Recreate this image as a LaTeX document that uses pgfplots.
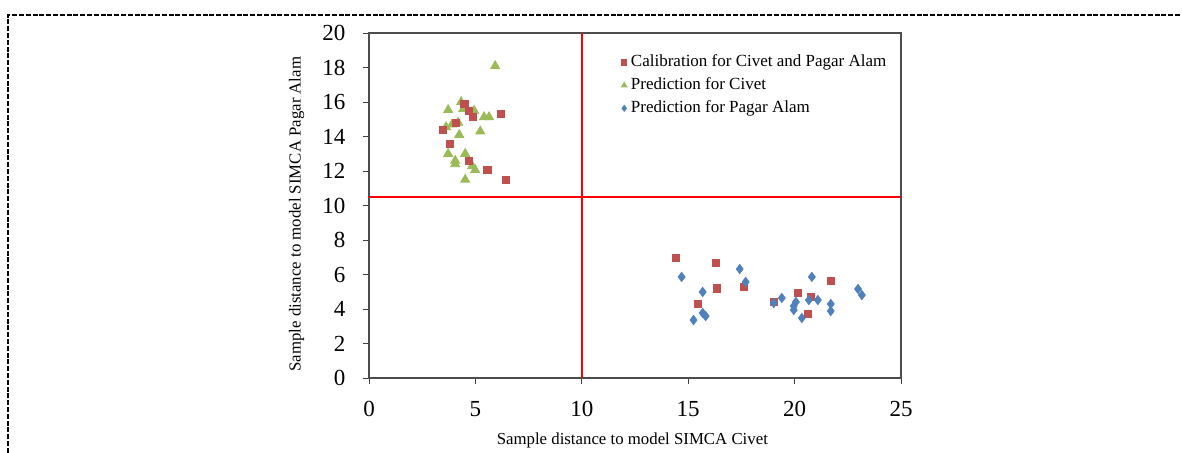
\documentclass[border=0pt]{standalone}
\usepackage{fontspec}
\setmainfont{Liberation Serif}
\usepackage{pgfplots}
\pgfplotsset{compat=1.18}

\definecolor{calred}{HTML}{C0504D}
\definecolor{civgreen}{HTML}{9BBB59}
\definecolor{pagblue}{HTML}{4F81BD}

\begin{document}
\begin{tikzpicture}
\useasboundingbox (0,0) rectangle (591pt,-226pt);
% dashed frame of the figure box
\draw[line width=1pt, dash pattern=on 2.5pt off 0.9pt] (4pt,-240pt) -- (4pt,-7.5pt) -- (600pt,-7.5pt);
\begin{axis}[
    at={(184.5pt,-189pt)}, anchor=south west,
    scale only axis,
    width=266pt, height=172.5pt,
    xmin=0, xmax=25, ymin=0, ymax=20,
    xtick={0,5,...,25},
    ytick={0,2,...,20},
    tick align=outside,
    xtick pos=bottom, ytick pos=left,
    major tick length=3pt,
    tick style={black!75, line width=0.5pt},
    axis line style={black!70, line width=0.6pt},
    /pgf/number format/assume math mode=true,
    ticklabel style={font=\fontsize{11.5}{13}\selectfont},
    xticklabel style={yshift=-5pt},
    yticklabel style={xshift=-5.3pt},
    xlabel={Sample distance to model SIMCA Civet},
    ylabel={Sample distance to model SIMCA Pagar Alam},
    label style={font=\fontsize{8.4}{10}\selectfont},
    xlabel style={at={(axis description cs:0.495,0)}, anchor=center, yshift=-31pt},
    ylabel style={at={(axis description cs:-0.136,0.475)}, anchor=center},
    legend style={at={(0.47,0.955)}, anchor=north west, draw=none, fill=none,
        font=\fontsize{8.5}{10}\selectfont, row sep=0pt,
        inner sep=1pt},
    legend cell align=left,
    legend image code/.code={\draw[mark repeat=2,mark phase=2,#1] plot coordinates {(0cm,0cm)(0.12cm,0cm)(0.24cm,0cm)};},
    clip=false,
]
% quadrant limits
\addplot[red, line width=1pt, forget plot] coordinates {(10,0) (10,20)};
\addplot[red, line width=1pt, forget plot] coordinates {(0,10.5) (25,10.5)};

% Prediction for Civet
\addplot[only marks, mark=triangle*, mark size=2.6pt, color=civgreen, forget plot] coordinates {
 (4.33,16.0) (3.72,15.54) (4.43,15.6) (4.94,15.5) (5.41,15.13) (5.64,15.13)
 (3.62,14.55) (3.90,14.7) (4.19,14.8) (5.23,14.3) (4.24,14.1)
 (3.72,13.0) (4.52,13.0) (4.05,12.6) (4.05,12.4) (4.85,12.3) (4.99,12.06)
 (4.52,11.5) (5.93,18.09)
};
% Calibration for Civet and Pagar Alam
\addplot[only marks, mark=square*, mark size=1.8pt, color=calred, forget plot] coordinates {
 (4.48,15.9) (4.71,15.5) (4.90,15.13) (6.21,15.3) (3.48,14.4) (4.10,14.8)
 (3.81,13.55) (4.71,12.6) (5.56,12.06) (6.45,11.5)
 (14.41,6.96) (16.29,6.67) (16.34,5.2) (17.61,5.28) (15.44,4.29)
 (19.02,4.41) (20.15,4.93) (20.76,4.7) (21.7,5.62) (20.62,3.71)
};
% Prediction for Pagar Alam
\addplot[only marks, mark=diamond*, mark size=2.3pt, color=pagblue, forget plot] coordinates {
 (14.69,5.86) (15.68,4.99) (15.68,3.77) (15.82,3.59) (15.25,3.36)
 (17.42,6.32) (17.7,5.57) (19.02,4.35) (19.4,4.64) (20.06,4.41)
 (19.96,4.17) (19.96,3.94) (20.34,3.48) (20.81,5.86) (20.67,4.52)
 (21.09,4.52) (21.7,4.29) (21.7,3.88) (22.98,5.16) (23.16,4.81)
};

\addlegendimage{only marks, mark=square*, mark size=1.3pt, color=calred}
\addlegendentry{Calibration for Civet and Pagar Alam}
\addlegendimage{only marks, mark=triangle*, mark size=1.6pt, color=civgreen}
\addlegendentry{Prediction for Civet}
\addlegendimage{only marks, mark=diamond*, mark size=1.5pt, color=pagblue}
\addlegendentry{Prediction for Pagar Alam}
\end{axis}
\end{tikzpicture}
\end{document}
